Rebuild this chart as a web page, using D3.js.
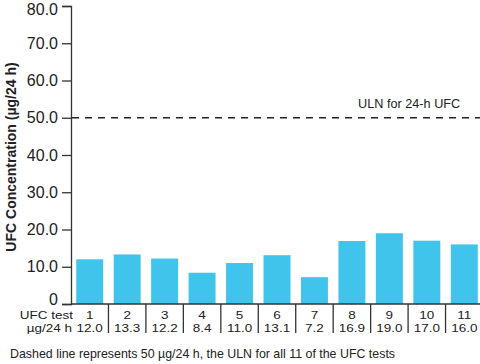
<!DOCTYPE html>
<html>
<head>
<meta charset="utf-8">
<script src="https://cdn.jsdelivr.net/npm/d3@7"></script>
<style>
  body { margin: 0; background: #fff; }
  svg { font-family: "Liberation Sans", Arial, sans-serif; }
</style>
</head>
<body>
<div id="chart"></div>
<script>
// data
const tests = ["1", "2", "3", "4", "5", "6", "7", "8", "9", "10", "11"];
const ufcValues = [12.0, 13.3, 12.2, 8.4, 11.0, 13.1, 7.2, 16.9, 19.0, 17.0, 16.0];
const yTicks = [0, 10, 20, 30, 40, 50, 60, 70, 80];
const uln = 50;

const width = 480, height = 364;
const svg = d3.select("#chart").append("svg")
  .attr("width", width).attr("height", height);

const x = d3.scaleBand()
  .domain(tests)
  .range([71, 483])
  .paddingInner(0.28)
  .paddingOuter(0.14);

const y = d3.scaleLinear().domain([0, 80]).range([304, 6]);

// bars
svg.selectAll("rect.bar")
  .data(tests)
  .enter().append("rect")
  .attr("class", "bar")
  .attr("x", d => x(d))
  .attr("y", (d, i) => y(ufcValues[i]))
  .attr("width", x.bandwidth())
  .attr("height", (d, i) => y(0) - y(ufcValues[i]))
  .attr("fill", "#40c4ec");

// y axis
const yAxis = svg.append("g")
  .attr("transform", "translate(71,0)")
  .call(d3.axisLeft(y).tickValues(yTicks).tickSize(9).tickPadding(4)
    .tickFormat(d => d === 0 ? "0" : d3.format(".1f")(d)));
yAxis.select(".domain").attr("stroke", "#333").attr("stroke-width", 1.3);
yAxis.selectAll(".tick line").attr("stroke", "#333").attr("stroke-width", 1.3);
yAxis.selectAll(".tick text")
  .attr("fill", "#222").attr("font-size", 16).attr("font-family", "Liberation Sans, Arial");
// zero label sits on the baseline, top label kept inside the page
yAxis.selectAll(".tick").filter(d => d === 0).select("text").attr("dy", "0.05em");
yAxis.selectAll(".tick").filter(d => d === 80).select("text").attr("dy", "0.5em");

// baseline
svg.append("line")
  .attr("x1", 71).attr("x2", width)
  .attr("y1", y(0)).attr("y2", y(0))
  .attr("stroke", "#333").attr("stroke-width", 1.3);

// dividers between the label columns
const step = x.step();
tests.slice(0, -1).forEach(t => {
  const xd = x(t) + x.bandwidth() + step * x.paddingInner() / 2;
  svg.append("line")
    .attr("x1", xd).attr("x2", xd)
    .attr("y1", y(0)).attr("y2", 333)
    .attr("stroke", "#333").attr("stroke-width", 1.3);
});

// category labels and values under the axis (text is a bit flattened in the original)
const squash = "scale(1,0.8)";
const labelG = svg.append("g").attr("fill", "#222").attr("font-size", 13.5).attr("text-anchor", "middle");
tests.forEach((t, i) => {
  const cx = x(t) + x.bandwidth() / 2;
  labelG.append("text").attr("transform", `translate(${cx},319) ${squash}`).text(t);
  labelG.append("text").attr("transform", `translate(${cx},332) ${squash}`).text(ufcValues[i].toFixed(1));
});
labelG.append("text").attr("transform", `translate(73,319) ${squash}`)
  .attr("text-anchor", "end").text("UFC test");
labelG.append("text").attr("transform", `translate(72,332) ${squash}`)
  .attr("text-anchor", "end").text("µg/24 h");

// ULN dashed line
svg.append("line")
  .attr("x1", 72).attr("x2", width)
  .attr("y1", y(uln)).attr("y2", y(uln))
  .attr("stroke", "#222").attr("stroke-width", 1.5)
  .attr("stroke-dasharray", "7,6");
svg.append("text").attr("x", 358).attr("y", y(uln) - 10)
  .attr("font-size", 12.7).attr("fill", "#222").text("ULN for 24-h UFC");

// y axis title
svg.append("text")
  .attr("transform", "translate(16,157) rotate(-90)")
  .attr("text-anchor", "middle")
  .attr("font-size", 14).attr("font-weight", "bold").attr("fill", "#222")
  .text("UFC Concentration (µg/24 h)");

// footnote
svg.append("text").attr("x", 10).attr("y", 358)
  .attr("font-size", 12.4).attr("fill", "#222")
  .text("Dashed line represents 50 µg/24 h, the ULN for all 11 of the UFC tests");
</script>
</body>
</html>
